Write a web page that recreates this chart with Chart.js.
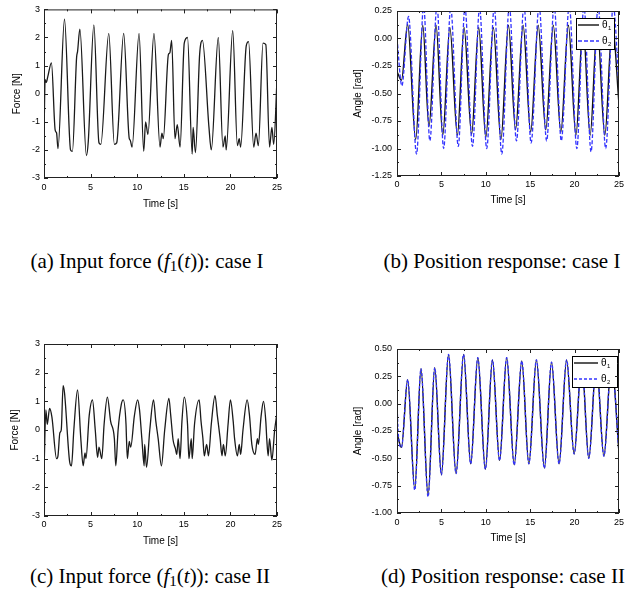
<!DOCTYPE html>
<html>
<head>
<meta charset="utf-8">
<script src="https://cdn.jsdelivr.net/npm/chart.js@4.4.0/dist/chart.umd.min.js"></script>
<style>
  body { margin: 0; background: #fff; width: 636px; height: 597px; position: relative; overflow: hidden; }
  canvas { position: absolute; }
  .cap { position: absolute; font-family: "Liberation Serif", "Times New Roman", serif; font-size: 21px; line-height: 21px; white-space: nowrap; transform: translateX(-50%); color: #000; }
  .cap sub { font-size: 15px; vertical-align: -3px; line-height: 0; }
</style>
</head>
<body>
<canvas id="chartA" width="300" height="215" style="left:0;top:0"></canvas>
<canvas id="chartB" width="306" height="215" style="left:330px;top:0"></canvas>
<canvas id="chartC" width="300" height="220" style="left:0;top:330px"></canvas>
<canvas id="chartD" width="306" height="220" style="left:330px;top:330px"></canvas>
<div class="cap" style="left:147px;top:251px">(a) Input force (<i>f</i><sub>1</sub>(<i>t</i>)): case I</div>
<div class="cap" style="left:502px;top:251px">(b) Position response: case I</div>
<div class="cap" style="left:150px;top:566px">(c) Input force (<i>f</i><sub>1</sub>(<i>t</i>)): case II</div>
<div class="cap" style="left:503px;top:566px">(d) Position response: case II</div>
<script>
// valores: [tempo (s), valor]
const forceCase1 = [
  [0, -1.65], [0.12, 0.5], [0.25, 0.4], [0.4, 0.6], [0.8, 1.1], [1.2, -1.3], [1.35, -1.4], [1.5, -1.95],
  [2.2, 2.65], [2.85, -2.0], [3.05, -2.05], [3.5, 1.3], [3.6, 1.5], [3.85, 2.3], [4.55, -2.2], [4.75, -1.7],
  [5.35, 2.45], [5.9, -1.75], [6.1, -1.8], [6.95, 2.15], [7.55, -1.8], [7.8, -1.75], [8.55, 2.15],
  [9.15, -1.6], [9.25, -1.65], [9.45, -1.9], [10.2, 2.15], [10.7, -2.05], [10.9, -1.0], [11.15, -1.45],
  [11.8, 2.15], [12.45, -1.9], [12.65, -1.4], [12.8, -1.6], [13.35, 1.4], [13.5, 1.45], [13.7, 1.9],
  [14.05, -1.6], [14.3, -1.1], [14.6, -1.9], [15.05, 1.8], [15.4, 2.0], [15.9, -2.15], [16.0, -1.2],
  [16.25, -2.1], [16.7, 1.4], [17.0, 1.9], [17.7, -1.2], [17.95, -2.0], [18.7, 2.0], [19.2, -1.9],
  [19.45, -1.5], [19.55, -2.0], [20.25, 2.25], [20.75, -1.85], [20.95, -1.6], [21.1, -1.9], [21.7, 1.7],
  [21.95, 1.85], [22.5, -1.9], [22.75, -1.4], [23.0, -1.85], [23.5, 1.8], [23.8, 1.75], [24.2, -1.9],
  [24.45, -1.2], [24.65, -1.8], [25, 0.5]
];

const theta1Case1 = [
  [0, -0.3], [0.5, -0.38], [1.2, 0.13], [2.1, -0.92], [2.9, 0.12], [3.6, -0.8], [4.4, 0.12], [5.15, -0.88],
  [5.95, 0.1], [6.8, -0.88], [7.55, 0.1], [8.4, -0.87], [9.2, 0.1], [10.0, -0.9], [10.85, 0.1], [11.7, -0.92],
  [12.55, 0.12], [13.35, -0.83], [14.2, 0.12], [15.05, -0.85], [15.9, 0.12], [16.75, -0.83], [17.6, 0.12],
  [18.45, -0.85], [19.3, 0.12], [20.15, -0.88], [20.95, 0.12], [21.75, -0.88], [22.55, 0.12], [23.4, -0.88],
  [24.25, 0.13], [25, -0.6]
];

const theta2Case1 = [
  [0, 0.0], [0.55, -0.43], [1.3, 0.2], [2.2, -1.05], [3.0, 0.3], [3.7, -0.93], [4.5, 0.3], [5.25, -1.0],
  [6.05, 0.28], [6.9, -0.98], [7.65, 0.28], [8.5, -0.98], [9.3, 0.28], [10.1, -1.0], [10.95, 0.28],
  [11.8, -1.05], [12.65, 0.3], [13.45, -0.93], [14.3, 0.3], [15.1, -0.95], [16.0, 0.3], [16.85, -0.93],
  [17.7, 0.3], [18.5, -0.93], [19.4, 0.3], [20.25, -1.0], [21.05, 0.3], [21.85, -1.03], [22.65, 0.3],
  [23.5, -1.0], [24.35, 0.3], [25, -0.45]
];

const forceCase2 = [
  [0, -1.5], [0.2, 0.7], [0.35, 0.2], [0.6, 0.75], [0.85, 0.45], [1.35, -1.0], [1.5, -0.9], [1.7, -0.1],
  [1.85, 0.0], [2.05, 1.55], [2.2, 1.3], [2.75, -1.1], [2.95, -1.25], [3.2, 0.0], [3.6, 1.4], [3.95, -0.3],
  [4.2, -1.25], [4.4, -0.8], [4.5, -1.0], [4.85, 0.5], [5.2, 1.05], [5.5, 0.0], [5.75, -0.95], [5.9, -0.6],
  [6.2, -1.0], [6.45, 0.2], [6.8, 1.15], [7.15, 0.3], [7.55, -0.3], [7.7, -1.25], [7.95, 0.0], [8.3, 0.9],
  [8.5, 1.05], [8.8, 0.2], [8.85, -0.3], [8.95, -1.0], [9.15, -0.4], [9.3, -0.6], [9.7, 0.5], [10.05, 1.05],
  [10.25, 0.7], [10.5, -0.3], [10.75, -1.25], [10.8, -0.5], [11.0, -1.3], [11.35, 0.0], [11.75, 1.05],
  [12.0, 0.3], [12.25, -0.3], [12.6, -1.25], [12.95, 0.0], [13.4, 1.1], [13.6, 0.5], [13.85, -0.35],
  [14.1, -0.65], [14.25, -0.85], [14.4, -0.3], [14.6, -1.0], [14.8, 0.3], [15.05, 1.15], [15.4, 0.2],
  [15.55, -1.0], [15.8, -0.3], [15.9, -1.0], [16.15, 0.2], [16.65, 1.05], [16.85, 0.3], [17.05, -0.3],
  [17.2, -0.9], [17.45, -0.5], [17.65, -0.9], [17.95, 0.2], [18.35, 1.2], [18.6, 0.5], [18.9, -0.3],
  [19.1, -0.9], [19.25, -0.5], [19.45, -0.9], [19.75, 0.2], [20.0, 1.05], [20.3, 0.3], [20.45, -0.3],
  [20.75, -0.9], [20.95, -0.5], [21.1, -0.85], [21.35, 0.0], [21.8, 1.05], [22.05, 0.5], [22.3, -0.5],
  [22.65, -0.85], [22.9, -0.3], [23.0, -0.5], [23.3, 0.5], [23.55, 1.0], [23.8, 0.3], [23.9, -0.3],
  [24.05, -0.9], [24.2, -0.3], [24.45, -1.05], [24.75, 0.0], [25, 0.6]
];

const theta1Case2 = [
  [0, -0.27], [0.5, -0.4], [1.2, 0.22], [2.0, -0.78], [2.7, 0.32], [3.5, -0.84], [4.25, 0.33], [5.0, -0.65],
  [5.8, 0.45], [6.65, -0.64], [7.5, 0.45], [8.3, -0.55], [9.1, 0.42], [9.95, -0.6], [10.75, 0.4],
  [11.55, -0.52], [12.35, 0.42], [13.2, -0.56], [14.05, 0.39], [14.85, -0.55], [15.7, 0.4], [16.6, -0.59],
  [17.4, 0.38], [18.25, -0.55], [19.1, 0.4], [19.95, -0.46], [20.8, 0.38], [21.6, -0.5], [22.45, 0.38],
  [23.3, -0.48], [24.15, 0.38], [25, -0.45]
];

const theta2Case2 = [
  [0, 0.0], [0.15, -0.28], [0.5, -0.4], [1.2, 0.22], [2.0, -0.79], [2.7, 0.32], [3.5, -0.85], [4.25, 0.33],
  [5.0, -0.65], [5.8, 0.45], [6.65, -0.64], [7.5, 0.45], [8.3, -0.55], [9.1, 0.42], [9.95, -0.6],
  [10.75, 0.4], [11.55, -0.52], [12.35, 0.42], [13.2, -0.56], [14.05, 0.39], [14.85, -0.55], [15.7, 0.4],
  [16.6, -0.59], [17.4, 0.38], [18.25, -0.55], [19.1, 0.4], [19.95, -0.46], [20.8, 0.38], [21.6, -0.5],
  [22.45, 0.38], [23.3, -0.48], [24.15, 0.38], [25, -0.45]
];

const timeTicks = [0, 5, 10, 15, 20, 25];
const forceRange = [-3, 3];
const angleRangeCase1 = [-1.25, 0.25];
const angleRangeCase2 = [-1.0, 0.5];

const FONT = '"Liberation Sans", Arial, sans-serif';
const BLUE = '#3333ff';

const toXY = pts => pts.map(p => ({ x: p[0], y: p[1] }));

// moldura, ticks internos e legenda com fundo branco
const framePlugin = {
  id: 'frame',
  afterDatasetsDraw(chart, args, opts) {
    const { ctx, chartArea: a, scales: { x, y } } = chart;
    ctx.save();
    if (opts.legend) {
      const L = opts.legend;
      const bx = a.right - L.right - L.w, by = a.top + L.top;
      ctx.fillStyle = '#fff';
      ctx.fillRect(bx, by, L.w, L.h);
      ctx.strokeStyle = '#000'; ctx.lineWidth = 1;
      ctx.strokeRect(bx + 0.5, by + 0.5, L.w, L.h);
      L.items.forEach((it, i) => {
        const ry = by + L.rows[i];
        ctx.strokeStyle = it.color; ctx.lineWidth = it.width;
        ctx.setLineDash(it.dash || []);
        ctx.beginPath(); ctx.moveTo(bx + L.sx0, ry); ctx.lineTo(bx + L.sx1, ry); ctx.stroke();
        ctx.setLineDash([]);
        ctx.fillStyle = '#000';
        ctx.textBaseline = 'middle'; ctx.textAlign = 'left';
        ctx.font = '10px ' + FONT;
        ctx.fillText('θ', bx + L.tx, ry);
        ctx.font = '6px ' + FONT;
        ctx.fillText(it.sub, bx + L.tx + 6, ry + 3);
      });
    }
    ctx.strokeStyle = '#222'; ctx.lineWidth = 1;
    ctx.strokeRect(a.left + 0.5, a.top + 0.5, a.right - a.left - 1, a.bottom - a.top - 1);
    ctx.beginPath();
    const xs = x.options.ticks.stepSize / 2;
    for (let i = 0; x.min + i * xs <= x.max + 1e-9; i++) {
      const px = Math.round(x.getPixelForValue(x.min + i * xs)) + 0.5;
      const len = i % 2 === 0 ? 4 : 2;
      ctx.moveTo(px, a.bottom); ctx.lineTo(px, a.bottom - len);
      ctx.moveTo(px, a.top); ctx.lineTo(px, a.top + len);
    }
    const ys = y.options.ticks.stepSize / 2;
    for (let i = 0; y.min + i * ys <= y.max + 1e-9; i++) {
      const py = Math.round(y.getPixelForValue(y.min + i * ys)) + 0.5;
      const len = i % 2 === 0 ? 4 : 2;
      ctx.moveTo(a.left, py); ctx.lineTo(a.left + len, py);
      ctx.moveTo(a.right, py); ctx.lineTo(a.right - len, py);
    }
    ctx.stroke();
    ctx.restore();
  }
};

function makePanel(id, geo, datasets, range, step, decimals, yTitle, legend) {
  new Chart(document.getElementById(id), {
    type: 'line',
    data: { datasets },
    options: {
      responsive: false,
      animation: false,
      layout: { padding: { top: geo.top, right: geo.right, left: 0, bottom: 0 } },
      elements: { point: { radius: 0 }, line: { cubicInterpolationMode: 'monotone' } },
      plugins: { legend: { display: false }, tooltip: { enabled: false }, frame: { legend } },
      scales: {
        x: {
          type: 'linear', min: timeTicks[0], max: timeTicks[timeTicks.length - 1],
          grid: { display: false, drawTicks: false }, border: { display: false },
          ticks: { stepSize: 5, autoSkip: false, maxRotation: 0, padding: geo.xTickPad, color: '#000', font: { family: FONT, size: 9 } },
          title: { display: true, text: 'Time [s]', color: '#000', font: { family: FONT, size: 10 }, padding: { top: 0, bottom: geo.xTitlePad } },
          afterFit: s => { s.height = geo.xh; }
        },
        y: {
          type: 'linear', min: range[0], max: range[1],
          grid: { display: false, drawTicks: false }, border: { display: false },
          ticks: { stepSize: step, autoSkip: false, padding: geo.yTickPad, color: '#000', font: { family: FONT, size: 9 },
                   callback: v => v.toFixed(decimals) },
          title: { display: true, text: yTitle, color: '#000', font: { family: FONT, size: 10 }, padding: { top: geo.yTitlePad, bottom: 0 } },
          afterFit: s => { s.width = geo.yw; }
        }
      }
    },
    plugins: [framePlugin]
  });
}

const forceLine = data => [{ data: toXY(data), borderColor: '#1a1a1a', borderWidth: 1.3 }];
const angleLines = (d1, d2, dash) => [
  { data: toXY(d2), borderColor: BLUE, borderWidth: 1.3, borderDash: dash, order: 0 },
  { data: toXY(d1), borderColor: '#111', borderWidth: 1.4, order: 1 }
];

makePanel('chartA', { top: 7, right: 23, yw: 44, xh: 37, xTickPad: 4, yTickPad: 4, xTitlePad: 5, yTitlePad: 11 },
  forceLine(forceCase1), forceRange, 1, 0, 'Force [N]');

makePanel('chartB', { top: 11, right: 17, yw: 67, xh: 39, xTickPad: 3, yTickPad: 5, xTitlePad: 9, yTitlePad: 22 },
  angleLines(theta1Case1, theta2Case1, [4, 2]), angleRangeCase1, 0.25, 2, 'Angle [rad]',
  { right: 5, top: 7, w: 38, h: 31, rows: [7, 23], sx0: 2, sx1: 23, tx: 26,
    items: [{ sub: '1', color: '#111', width: 1.4 }, { sub: '2', color: BLUE, width: 1.3, dash: [4, 2] }] });

makePanel('chartC', { top: 14, right: 23, yw: 44, xh: 34, xTickPad: 3, yTickPad: 4, xTitlePad: 3, yTitlePad: 9 },
  forceLine(forceCase2), forceRange, 1, 0, 'Force [N]');

makePanel('chartD', { top: 19, right: 17, yw: 67, xh: 37, xTickPad: 4, yTickPad: 5, xTitlePad: 6, yTitlePad: 22 },
  angleLines(theta1Case2, theta2Case2, [3, 2]), angleRangeCase2, 0.25, 2, 'Angle [rad]',
  { right: 2, top: 7, w: 45, h: 31, rows: [7, 23], sx0: 2, sx1: 26, tx: 29,
    items: [{ sub: '1', color: '#111', width: 1.4 }, { sub: '2', color: BLUE, width: 1.3, dash: [3, 2] }] });
</script>
</body>
</html>
